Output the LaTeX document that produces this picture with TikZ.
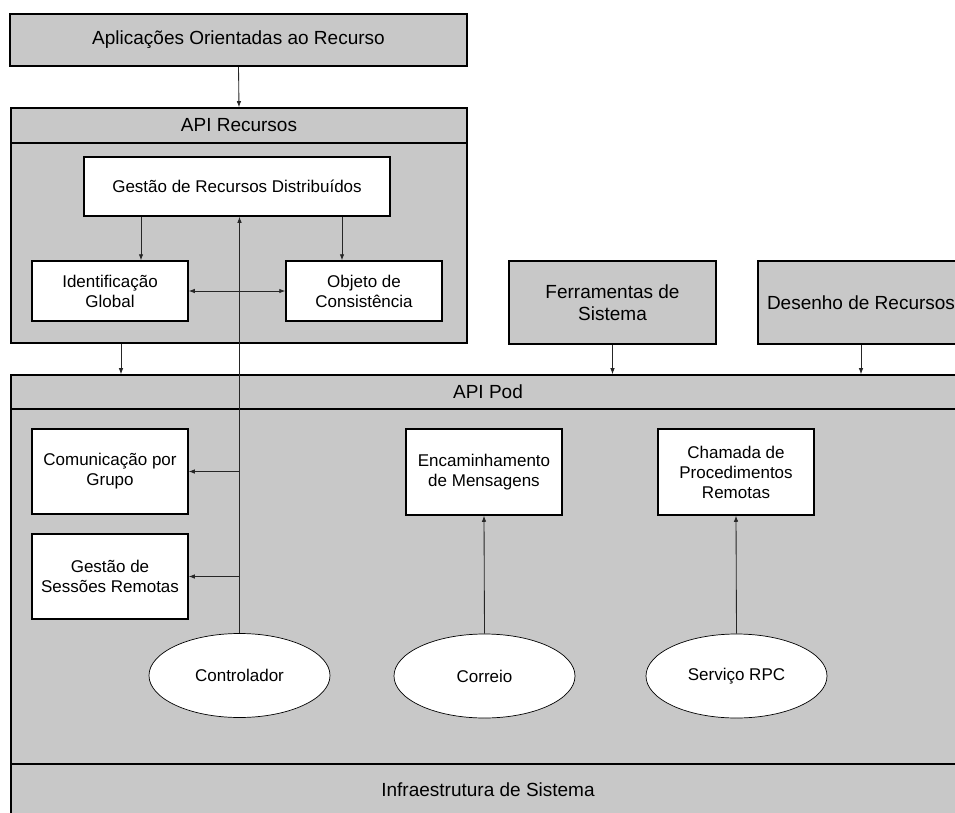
\documentclass[tikz,border=0pt]{standalone}
\usepackage{fontspec}
\setmainfont{Liberation Sans}
\usetikzlibrary{arrows.meta,shapes.geometric}
\definecolor{boxgray}{RGB}{200,200,200}
\newcommand\myfbig{\fontsize{19}{22}\selectfont}
\newcommand\myfsmall{\fontsize{17}{20}\selectfont}
\begin{document}
\begin{tikzpicture}[x=1pt,y=-1pt,
  graybox/.style={draw=black, line width=1.6pt, fill=boxgray, inner sep=0pt, font=\myfbig, align=center},
  whitebox/.style={draw=black, line width=1.5pt, fill=white, inner sep=0pt, font=\myfsmall, align=center, minimum width=156pt},
  oval/.style={ellipse, draw=black, line width=0.7pt, fill=white, inner sep=0pt, minimum width=181pt, minimum height=84pt, font=\myfsmall},
  arr/.style={draw=black!85, line width=0.85pt, -{Latex[length=6pt,width=4.5pt]}},
  darr/.style={draw=black!85, line width=0.85pt, {Latex[length=6pt,width=4.5pt]}-{Latex[length=6pt,width=4.5pt]}}]
\clip (0,0) rectangle (955,813);
\fill[white] (0,0) rectangle (955,813);

% top application box
\node[graybox, minimum width=457pt, minimum height=52pt] (apl) at (238.5,40) {Aplicações Orientadas ao Recurso};

% API Recursos
\node[graybox, minimum width=456pt, minimum height=35pt] (apir) at (239,125.5) {API Recursos};
\node[graybox, minimum width=456pt, minimum height=200pt] (apirb) at (239,243) {};
\node[whitebox, minimum width=306pt, minimum height=59pt] (gdr) at (237,186.5) {Gestão de Recursos Distribuídos};
\node[whitebox, minimum height=60pt] (idg) at (110,291) {Identificação\\Global};
\node[whitebox, minimum height=60pt] (obj) at (364,291) {Objeto de\\Consistência};

% tools
\node[graybox, minimum width=207pt, minimum height=83pt] (fer) at (612.5,302.5) {Ferramentas de\\Sistema};
\node[graybox, minimum width=206pt, minimum height=83pt] (des) at (861,302.5) {Desenho de Recursos};

% API Pod
\node[graybox, minimum width=954pt, minimum height=34pt] (apod) at (488,392) {API Pod};
\node[graybox, minimum width=954pt, minimum height=355pt] (apodb) at (488,586.5) {};
\node[graybox, minimum width=954pt, minimum height=52pt] (infra) at (488,790) {Infraestrutura de Sistema};

\node[whitebox, minimum height=85pt] (com) at (110,471.5) {Comunicação por\\Grupo};
\node[whitebox, minimum height=85pt] (gss) at (110,576.5) {Gestão de\\Sessões Remotas};
\node[whitebox, minimum height=86pt] (enc) at (484,472) {Encaminhamento\\de Mensagens};
\node[whitebox, minimum height=86pt] (cham) at (736,472) {Chamada de\\Procedimentos\\Remotas};

\node[oval] (ctrl) at (239.5,675.5) {Controlador};
\node[oval] (cor) at (484.5,676) {Correio};
\node[oval] (srv) at (736.5,676) {Serviço RPC};

% connectors
\coordinate (xa) at (141,0);
\coordinate (xb) at (342,0);
\coordinate (xc) at (121,0);
\draw[arr] (apl.south) -- (apir.north);
\draw[arr] (gdr.south -| xa) -- (idg.north -| xa);
\draw[arr] (gdr.south -| xb) -- (obj.north -| xb);
\draw[darr] (idg.east) -- (obj.west);
\draw[arr] (apirb.south -| xc) -- (apod.north -| xc);
\draw[arr] (fer.south) -- (fer.south |- apod.north);
\draw[arr] (des.south) -- (des.south |- apod.north);
\draw[arr] (ctrl.north) -- (ctrl.north |- gdr.south);
\coordinate (j1) at (ctrl.north |- com.east);
\coordinate (j2) at (ctrl.north |- gss.east);
\draw[arr] (j1) -- (com.east);
\draw[arr] (j2) -- (gss.east);
\draw[arr] (cor.north) -- (enc.south);
\draw[arr] (srv.north) -- (cham.south);
\end{tikzpicture}
\end{document}
